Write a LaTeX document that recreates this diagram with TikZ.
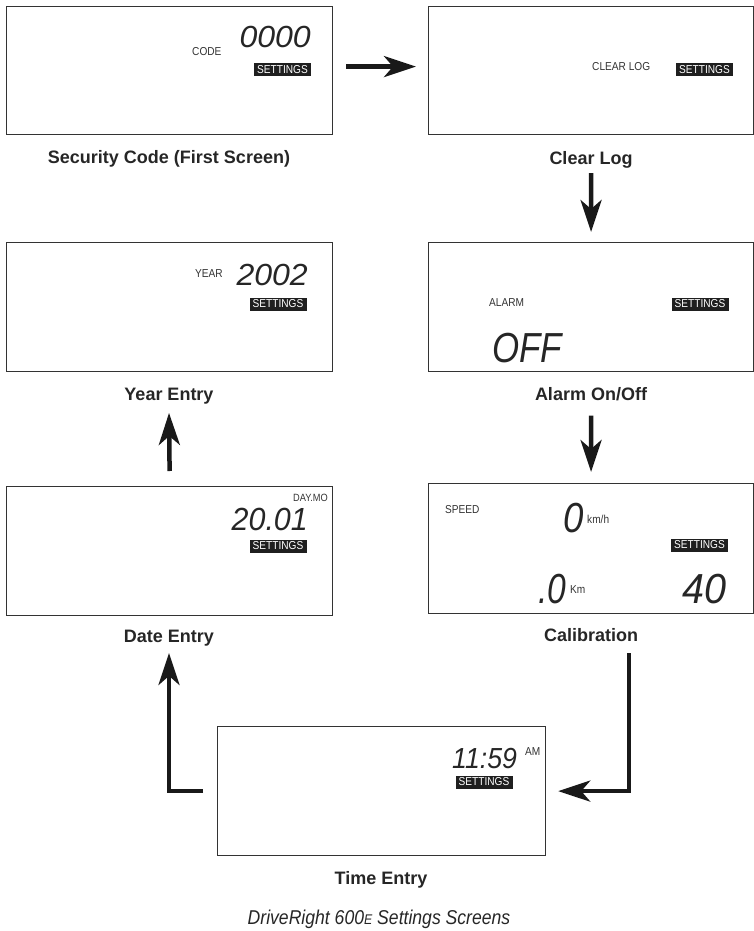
\documentclass[tikz,border=0pt]{standalone}
\usepackage{fontspec}
\setmainfont{Liberation Sans}
\newfontfamily\narrowsans{Liberation Sans}[FakeStretch=0.88]
\usepackage{graphicx}
\usetikzlibrary{arrows.meta}
\newcommand\lcdtxt[3]{\scalebox{#1}[1]{\fontsize{#2}{#2}\selectfont\itshape #3}}
\begin{document}
\begin{tikzpicture}[x=1pt,y=-1pt,
  screen/.style={draw=black!80, line width=1.2pt, anchor=north west, inner sep=0pt},
  tag/.style={fill=black!88, text=white, font=\narrowsans\fontsize{11.5}{11.5}\selectfont, inner sep=0pt, minimum width=57pt, minimum height=13pt},
  small/.style={font=\narrowsans\fontsize{11.5}{11.5}\selectfont, text=black!80, inner sep=0pt},
  lcd/.style={text=black!85, inner sep=0pt},
  labtxt/.style={font=\bfseries\fontsize{18}{18}\selectfont, text=black!85, inner sep=0pt, anchor=base},
  arr/.style={line width=4.5pt, draw=black!90, line join=miter, -{Stealth[length=32pt,width=21pt,inset=9pt]}},
]
\useasboundingbox (0,0) rectangle (754,931);

% screens
\node[screen, minimum width=326pt, minimum height=128pt] (sec) at (6,6) {};
\node[screen, minimum width=325pt, minimum height=128pt] (clr) at (428,6) {};
\node[screen, minimum width=326pt, minimum height=129pt] (yr) at (6,242) {};
\node[screen, minimum width=325pt, minimum height=129pt] (alm) at (428,242) {};
\node[screen, minimum width=326pt, minimum height=129pt] (date) at (6,486) {};
\node[screen, minimum width=325pt, minimum height=130pt] (cal) at (428,483) {};
\node[screen, minimum width=328pt, minimum height=129pt] (time) at (217,726) {};

% captions
\node[labtxt] (seclab) at (169,163) {Security Code (First Screen)};
\node[labtxt] (clrlab) at (591,164) {Clear Log};
\node[labtxt] (yrlab) at (169,400) {Year Entry};
\node[labtxt] (almlab) at (591,400) {Alarm On/Off};
\node[labtxt] (datelab) at (169,642) {Date Entry};
\node[labtxt] (callab) at (591,641) {Calibration};
\node[labtxt] (timelab) at (381,884) {Time Entry};
\node[font=\narrowsans\itshape\fontsize{20}{20}\selectfont, text=black!85, inner sep=0pt, anchor=base] (title) at (379,924) {DriveRight 600{\fontsize{14}{14}\selectfont E} Settings Screens};

% security code screen
\node[small, anchor=base west] (code) at (192,56) {CODE};
\node[lcd, anchor=base east] (codev) at (311,48) {\lcdtxt{1.05}{30.5}{0000}};
\node[tag] (t1) at (282.5,70) {SETTINGS};

% clear log screen
\node[small, anchor=base west] (clrt) at (592,71) {CLEAR LOG};
\node[tag] (t2) at (704.5,70) {SETTINGS};

% year screen
\node[small, anchor=base west] (year) at (195,277) {YEAR};
\node[lcd, anchor=base east] (yearv) at (308,285) {\lcdtxt{1.05}{30.5}{2002}};
\node[tag] (t3) at (278,304) {SETTINGS};

% alarm screen
\node[small, anchor=base west] (alarm) at (489,306) {ALARM};
\node[lcd, anchor=base west] (offv) at (492,362) {\lcdtxt{0.83}{42}{OFF}};
\node[tag] (t4) at (700,304) {SETTINGS};

% date screen
\node[small, font=\narrowsans\fontsize{10.5}{10.5}\selectfont, anchor=base east] (daymo) at (328,501) {DAY.MO};
\node[lcd, anchor=base east] (datev) at (308,530) {\lcdtxt{0.95}{32}{20.01}};
\node[tag] (t5) at (278,546) {SETTINGS};

% calibration screen
\node[small, anchor=base west] (speed) at (445,513) {SPEED};
\node[lcd, anchor=base west] (speedv) at (563,532) {\lcdtxt{0.87}{42}{0}};
\node[small, anchor=base west] (kmh) at (587,523) {km/h};
\node[tag] (t6) at (699.5,545) {SETTINGS};
\node[lcd, anchor=base west] (distv) at (538,603) {\lcdtxt{0.8}{42}{.0}};
\node[small, anchor=base west] (km) at (570,593) {Km};
\node[lcd, anchor=base east] (calv) at (727,603) {\lcdtxt{0.94}{42}{40}};

% time screen
\node[lcd, anchor=base west] (timev) at (452,768) {\lcdtxt{0.92}{29}{11:59}};
\node[small, anchor=base west] (am) at (525,755) {AM};
\node[tag] (t7) at (484,782) {SETTINGS};

% connectors
\draw[arr] ([xshift=13pt,yshift=4pt]sec.east) -- ([xshift=-12pt,yshift=4pt]clr.west);
\draw[arr] ([yshift=-5pt]clrlab.south) -- ([yshift=10pt]alm.north);
\draw[arr] ([yshift=-15pt]almlab.south) -- ([yshift=11pt]cal.north);
\draw[arr] ([yshift=15pt]date.north) -- ([yshift=-9pt]yrlab.south);
\coordinate (c5) at ([xshift=38pt,yshift=-12pt]callab.south);
\draw[arr] (c5) |- ([xshift=12pt]time.east);
\draw[arr] ([xshift=-14pt]time.west) -| ([yshift=-7pt]datelab.south);
\end{tikzpicture}
\end{document}
